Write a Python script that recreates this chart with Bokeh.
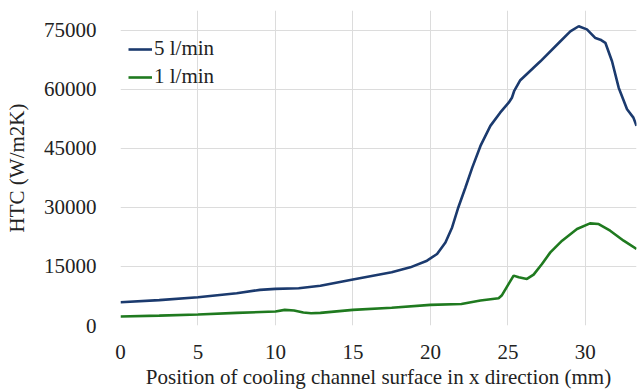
from bokeh.plotting import figure
from bokeh.models import FixedTicker, Range1d, Legend, LegendItem
from bokeh.embed import file_html
from bokeh.resources import INLINE

x_5 = [0, 2.5, 5, 7.5, 9, 10, 11.5, 12.9, 15, 17.5, 18.7, 19.78, 20.43, 20.97, 21.4, 21.8,
       22.26, 22.7, 23.23, 23.87, 24.5, 25.05, 25.26, 25.4, 25.8, 27.1, 28.39, 29.03, 29.57,
       30.1, 30.65, 30.97, 31.29, 31.72, 32.15, 32.69, 33.1, 33.3]
htc_5 = [5900, 6450, 7170, 8200, 9050, 9300, 9450, 10100, 11700, 13500, 14770, 16460, 18160,
         21100, 24900, 29980, 35040, 40100, 45600, 50700, 54040, 56580, 57850, 59500, 62300,
         67100, 72200, 74700, 76000, 75200, 73000, 72600, 71800, 67100, 60400, 54900, 52800,
         50700]

x_1 = [0, 2.5, 5, 7.5, 10, 10.6, 11.2, 11.8, 12.3, 12.9, 15, 17.5, 20, 22, 23.23, 24.4, 24.6,
       25.05, 25.37, 25.7, 26.23, 26.66, 27.2, 27.74, 28.5, 29.46, 30.3, 30.86, 31.6, 32.47,
       33.3]
htc_1 = [2280, 2500, 2790, 3200, 3550, 3970, 3800, 3300, 3120, 3200, 3970, 4500, 5240, 5450,
         6330, 6920, 7600, 10560, 12670, 12240, 11830, 12920, 15630, 18570, 21540, 24500,
         25930, 25760, 24070, 21540, 19430]

x_ticks = [0, 5, 10, 15, 20, 25, 30]
y_ticks = [0, 15000, 30000, 45000, 60000, 75000]
labels = ["5 l/min", "1 l/min"]

FONT = "Liberation Serif"
TXT = "#222222"
FS = "21px"

p = figure(frame_width=516, frame_height=315, output_backend="svg", toolbar_location=None,
           x_range=Range1d(0, 33.3), y_range=Range1d(0, 80000),
           min_border_left=120, min_border_right=6, min_border_top=10, min_border_bottom=65)
p.outline_line_color = None

r5 = p.line(x_5, htc_5, line_color="#1b3a6e", line_width=2.6)
r1 = p.line(x_1, htc_1, line_color="#1f7a1f", line_width=2.6)

for ax in (p.xaxis, p.yaxis):
    ax.axis_line_color = None
    ax.major_tick_line_color = None
    ax.minor_tick_line_color = None
    ax.major_label_text_font = FONT
    ax.major_label_text_font_size = FS
    ax.major_label_text_color = TXT
    ax.axis_label_text_font = FONT
    ax.axis_label_text_font_size = FS
    ax.axis_label_text_font_style = "normal"
    ax.axis_label_text_color = TXT

p.xaxis.ticker = FixedTicker(ticks=x_ticks)
p.yaxis.ticker = FixedTicker(ticks=y_ticks)
p.xaxis.axis_label = "Position of cooling channel surface in x direction (mm)"
p.yaxis.axis_label = "HTC (W/m2K)"
p.xaxis.major_label_standoff = 13
p.yaxis.major_label_standoff = 18
p.xaxis.axis_label_standoff = 3
p.yaxis.axis_label_standoff = 12

p.xgrid.grid_line_color = "#dcdcdc"
p.ygrid.grid_line_color = "#dcdcdc"
p.xgrid.ticker = FixedTicker(ticks=x_ticks)
p.ygrid.ticker = FixedTicker(ticks=y_ticks)

legend = Legend(items=[LegendItem(label=labels[0], renderers=[r5]),
                       LegendItem(label=labels[1], renderers=[r1])],
                location=(8, 236))
legend.background_fill_alpha = 0
legend.border_line_color = None
legend.label_text_font = FONT
legend.label_text_font_size = FS
legend.label_text_color = TXT
legend.glyph_width = 24
legend.glyph_height = 24
legend.label_height = 24
legend.label_standoff = 2
legend.spacing = 3
legend.padding = 0
legend.margin = 0
p.add_layout(legend)

open("out.html", "w").write(file_html(p, INLINE))
